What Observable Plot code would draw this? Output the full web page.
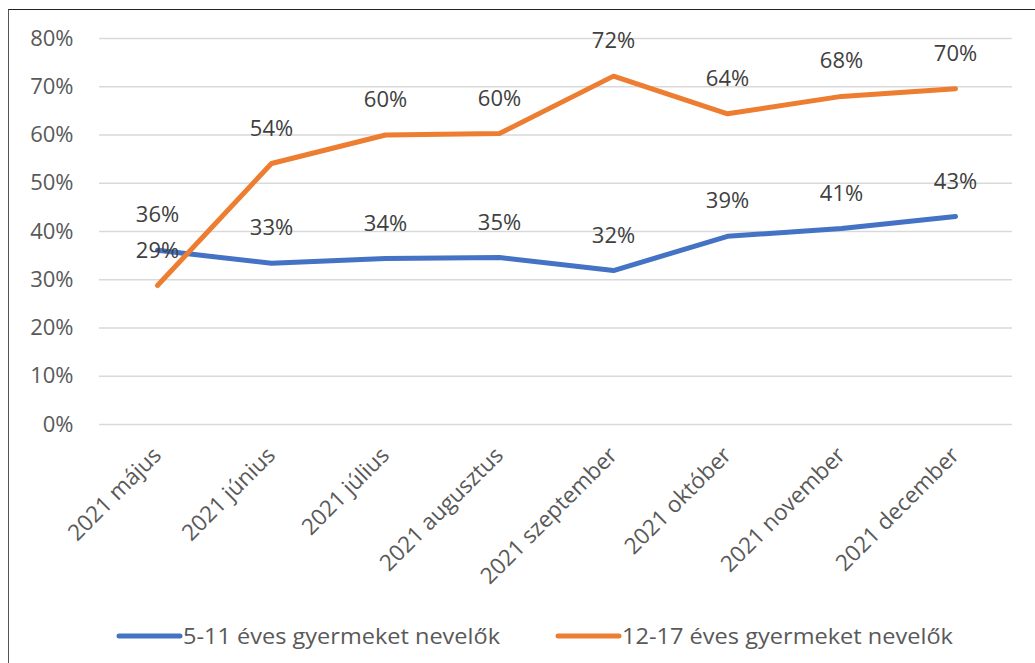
<!DOCTYPE html>
<html><head><meta charset="utf-8">
<script src="https://cdn.jsdelivr.net/npm/d3@7"></script>
<script src="https://cdn.jsdelivr.net/npm/@observablehq/plot@0.6"></script>
<style>
body{margin:0;background:#fff;}
#wrap{position:relative;width:1035px;height:663px;overflow:hidden;background:#fff;}
#frame{position:absolute;left:8px;top:9px;width:1100px;height:700px;border-top:1.5px solid #222;border-left:1.5px solid #555;}
#chart{position:absolute;left:0;top:0;}
#legend{position:absolute;left:0;top:616px;}
</style></head>
<body><div id="wrap"><div id="frame"></div><div id="chart"></div><svg id="legend" width="1035" height="40"></svg></div>
<script>
const months = ["2021 május","2021 június","2021 július","2021 augusztus","2021 szeptember","2021 október","2021 november","2021 december"];
const seriesNames = ["5-11 éves gyermeket nevelők","12-17 éves gyermeket nevelők"];
const younger = [0.361,0.334,0.344,0.346,0.319,0.390,0.406,0.431];
const older = [0.288,0.541,0.600,0.603,0.722,0.644,0.680,0.696];
const yTicks = [0,0.1,0.2,0.3,0.4,0.5,0.6,0.7,0.8];
const colors = ["#4472C4","#ED7D31"];

const data = [];
months.forEach((m,i)=>{
  data.push({month:m, value:younger[i], series:seriesNames[0]});
  data.push({month:m, value:older[i], series:seriesNames[1]});
});
const pct = d => Math.round(d*100) + "%";

const chart = Plot.plot({
  width:1035, height:600,
  marginTop:38, marginBottom:176, marginLeft:99, marginRight:23,
  style:{fontFamily:"'Open Sans', sans-serif", fontSize:"22px", background:"transparent", overflow:"visible"},
  x:{type:"point", domain:months, padding:0.5},
  y:{domain:[0,0.8]},
  color:{domain:seriesNames, range:colors},
  marks:[
    Plot.ruleY(yTicks, {stroke:"#D9D9D9", strokeWidth:1.3}),
    Plot.axisY({ticks:yTicks, tickFormat:pct, tickSize:0, tickPadding:26, fill:"#595959", fontSize:22, label:null}),
    Plot.axisX({tickSize:0, tickRotate:-45, tickPadding:27, fill:"#595959", fontSize:22.5, label:null}),
    Plot.line(data, {x:"month", y:"value", z:"series", stroke:"series", strokeWidth:5, strokeLinecap:"round", strokeLinejoin:"round"}),
    Plot.text(data, {x:"month", y:"value", text:d=>pct(d.value), dy:-35, fill:"#404040", fontSize:22})
  ]
});
document.getElementById("chart").appendChild(chart);

const leg = d3.select("#legend");
const items = [
  {name:seriesNames[0], color:colors[0], x1:119, x2:180, tx:183, len:317},
  {name:seriesNames[1], color:colors[1], x1:558, x2:619, tx:622, len:331}
];
items.forEach(it=>{
  leg.append("line").attr("x1",it.x1).attr("x2",it.x2).attr("y1",20).attr("y2",20)
    .attr("stroke",it.color).attr("stroke-width",5).attr("stroke-linecap","round");
  leg.append("text").attr("x",it.tx).attr("y",28).text(it.name)
    .attr("font-family","'Open Sans', sans-serif").attr("font-size",22).attr("fill","#595959")
    .attr("textLength", it.len).attr("lengthAdjust","spacingAndGlyphs");
});
</script></body></html>
